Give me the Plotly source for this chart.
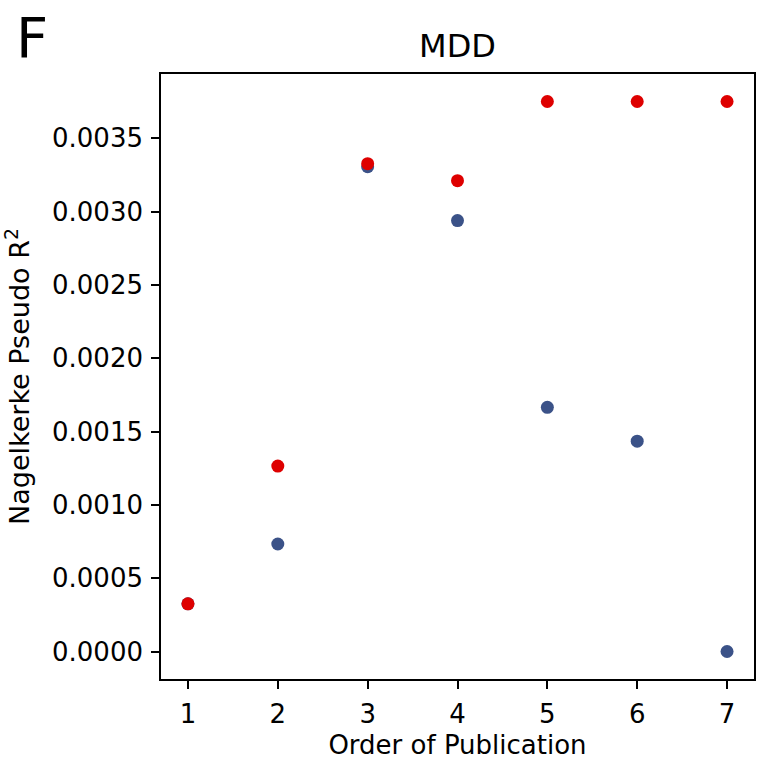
import plotly.graph_objects as go

order = [1, 2, 3, 4, 5, 6, 7]
blue_vals = [0.000325, 0.000733, 0.003305, 0.002938, 0.001665, 0.001434, 0.0]
red_vals = [0.000325, 0.001264, 0.003326, 0.00321, 0.00375, 0.00375, 0.00375]
ytick_vals = [0.0, 0.0005, 0.0010, 0.0015, 0.0020, 0.0025, 0.0030, 0.0035]
ytick_text = ["0.0000", "0.0005", "0.0010", "0.0015", "0.0020", "0.0025", "0.0030", "0.0035"]

FONT = "DejaVu Sans"

fig = go.Figure()
fig.add_trace(go.Scatter(x=order, y=blue_vals, mode="markers",
                         marker=dict(size=13, color="#3b5288"), showlegend=False))
fig.add_trace(go.Scatter(x=order, y=red_vals, mode="markers",
                         marker=dict(size=13, color="#de0000"), showlegend=False))

fig.update_layout(
    width=757, height=762,
    margin=dict(l=161, r=1, t=74, b=83),
    paper_bgcolor="white", plot_bgcolor="white",
    font=dict(family=FONT, color="black", size=26),
    title=dict(text="MDD", x=0.5, xanchor="center", xref="paper",
               y=1, yref="paper", yanchor="bottom", pad=dict(b=17),
               font=dict(family=FONT, size=32, color="black")),
    xaxis=dict(range=[0.7, 7.3], tickvals=order, ticktext=[str(v) for v in order],
               showgrid=False, zeroline=False, showline=True, linecolor="black",
               linewidth=1.6, mirror=True, ticks="outside", ticklen=8, tickwidth=1.6,
               tickcolor="black", tickfont=dict(size=26), ticklabelstandoff=3,
               title=dict(text="Order of Publication", font=dict(size=26), standoff=8)),
    yaxis=dict(range=[-0.0001875, 0.0039375], tickvals=ytick_vals, ticktext=ytick_text,
               showgrid=False, zeroline=False, showline=True, linecolor="black",
               linewidth=1.6, mirror=True, ticks="outside", ticklen=8, tickwidth=1.6,
               tickcolor="black", tickfont=dict(size=26), ticklabelstandoff=3,
               title=dict(text="Nagelkerke Pseudo R<sup>2</sup>", font=dict(size=27), standoff=15)),
)

fig.add_annotation(text="F", xref="paper", yref="paper", x=-(161 - 14) / 595, y=1 + (74 - 3) / 605,
                   xanchor="left", yanchor="top", showarrow=False,
                   font=dict(family=FONT, size=56, color="black"))

fig.write_html("out.html", config={"displayModeBar": False},
               post_script="document.body.style.margin='0';document.body.style.overflow='hidden';")
